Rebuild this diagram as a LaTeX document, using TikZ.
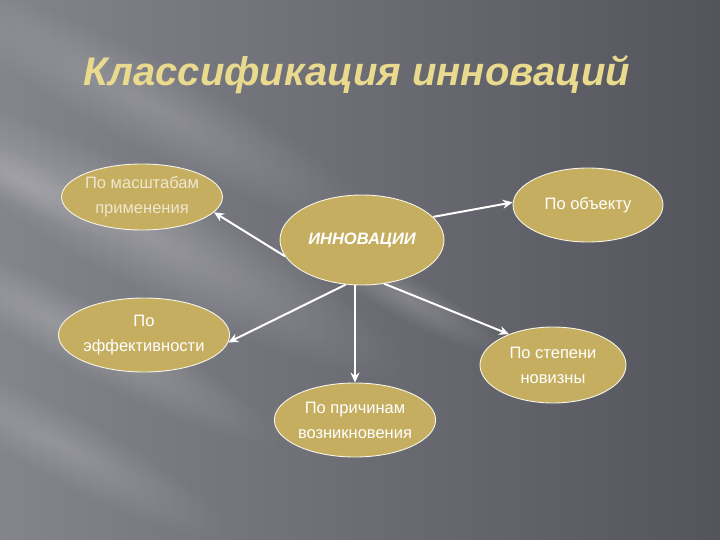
\documentclass[tikz,border=0pt]{standalone}
\usepackage{fontspec}
\setmainfont{Liberation Sans}
\usetikzlibrary{shapes.geometric,arrows.meta,fadings}
\definecolor{khaki}{RGB}{198,174,96}
\definecolor{titlecol}{RGB}{234,218,142}
\definecolor{bgleft}{RGB}{132,132,140}
\definecolor{bgright}{RGB}{84,84,92}
\tikzfading[name=softoval, inner color=transparent!0, outer color=transparent!100]
\tikzset{
  oval/.style={ellipse, draw=white!85!khaki, line width=0.9pt, fill=khaki,
    text=white, font=\fontsize{16.5}{25}\selectfont, align=center, inner sep=0pt},
  link/.style={draw=white, line width=2pt, -{Stealth[length=10pt,width=9pt]}},
  ray/.style={fill=white, path fading=softoval},
}
\newcommand{\lightray}[5]{%
  \begin{scope}[transform canvas={rotate around={-28:(#1,#2)}}]
    \fill[ray, opacity=#5] (#1,#2) ellipse [x radius=#3, y radius=#4];
  \end{scope}}
\begin{document}
\begin{tikzpicture}[x=1pt,y=-1pt]
\useasboundingbox (0,0) rectangle (720,540);
\shade[left color=bgleft, right color=bgright] (0,0) rectangle (720,540);
\lightray{140}{230}{300}{55}{0.22}
\lightray{80}{335}{230}{35}{0.20}
\lightray{60}{445}{190}{35}{0.16}
\lightray{150}{105}{260}{45}{0.16}
\lightray{410}{300}{110}{22}{0.18}
\lightray{20}{180}{120}{25}{0.15}
\node (title) [font=\fontsize{40}{42}\selectfont\bfseries\itshape, text=titlecol] at (357,75) {Классификация инноваций};
\node (inn) [oval, minimum width=164pt, minimum height=90pt, font=\fontsize{16.5}{25}\selectfont\bfseries\itshape] at (362,240) {ИННОВАЦИИ};
\node (scale) [oval, minimum width=146pt, minimum height=66pt, text=white!70!khaki] at (142,197) {По масштабам\\применения};
\node (obj) [oval, minimum width=150pt, minimum height=74pt] at (588,205) {По объекту};
\node (eff) [oval, minimum width=148pt, minimum height=74pt] at (144,335) {По\\эффективности};
\node (nov) [oval, minimum width=146pt, minimum height=76pt] at (553,365) {По степени\\новизны};
\node (cause) [oval, minimum width=150pt, minimum height=74pt] at (355,420) {По причинам\\возникновения};
\draw[link] (inn.192) -- (scale.-12);
\draw[link] (inn.18) -- (obj.178);
\draw[link] (inn.250) -- (eff.-5);
\draw[link, line width=1.2pt] (cause.north |- inn.south) -- (cause.north);
\draw[link] (inn.297) -- (nov.145);
\end{tikzpicture}
\end{document}
